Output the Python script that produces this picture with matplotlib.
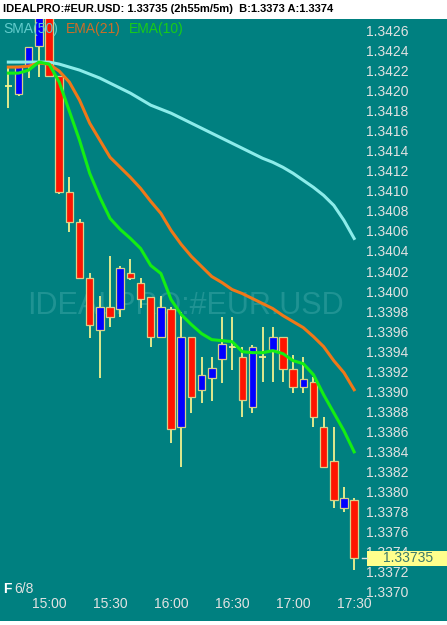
import numpy as np
import matplotlib.pyplot as plt
import matplotlib.transforms as mtransforms
from matplotlib.patches import Rectangle

plt.rcParams['font.family'] = ['Liberation Sans', 'DejaVu Sans']

# velas de 5 minutos, 14:40 -> 17:30
opens = [1.34206, 1.34198, 1.34227, 1.34246, 1.34280, 1.34216, 1.34100, 1.34070, 1.34015, 1.33963,
         1.33986, 1.33984, 1.34020, 1.34010, 1.33996, 1.33956, 1.33984, 1.33866, 1.33956, 1.33903,
         1.33915, 1.33934, 1.33946, 1.33936, 1.33886, 1.33936, 1.33943, 1.33956, 1.33924, 1.33906,
         1.33911, 1.33866, 1.33832, 1.33785, 1.33793]
highs = [1.34224, 1.34226, 1.34245, 1.34275, 1.34285, 1.34216, 1.34115, 1.34073, 1.34020, 1.33997,
         1.34036, 1.34026, 1.34033, 1.34015, 1.33996, 1.33997, 1.33986, 1.33981, 1.33956, 1.33936,
         1.33936, 1.33976, 1.33976, 1.33946, 1.33948, 1.33966, 1.33966, 1.33956, 1.33938, 1.33936,
         1.33916, 1.33876, 1.33866, 1.33806, 1.33795]
lows = [1.34184, 1.34196, 1.34214, 1.34215, 1.34216, 1.34098, 1.34060, 1.34015, 1.33955, 1.33915,
        1.33966, 1.33976, 1.34013, 1.33985, 1.33946, 1.33956, 1.33850, 1.33826, 1.33880, 1.33890,
        1.33892, 1.33910, 1.33923, 1.33876, 1.33880, 1.33911, 1.33911, 1.33911, 1.33900, 1.33900,
        1.33866, 1.33826, 1.33785, 1.33781, 1.33723]
closes = [1.34206, 1.34226, 1.34245, 1.34275, 1.34216, 1.34100, 1.34070, 1.34015, 1.33968, 1.33986,
          1.33976, 1.34024, 1.34015, 1.33994, 1.33956, 1.33986, 1.33864, 1.33956, 1.33896, 1.33918,
          1.33925, 1.33949, 1.33946, 1.33893, 1.33946, 1.33936, 1.33956, 1.33924, 1.33906, 1.33914,
          1.33876, 1.33826, 1.33793, 1.33795, 1.33735]

sma50 = [1.34230, 1.34230, 1.34230, 1.34230, 1.34230, 1.34228, 1.34225, 1.34222, 1.34218, 1.34214,
         1.34209, 1.34204, 1.34199, 1.34193, 1.34187, 1.34183, 1.34179, 1.34174, 1.34169, 1.34164,
         1.34159, 1.34154, 1.34149, 1.34144, 1.34139, 1.34134, 1.34130, 1.34125, 1.34119, 1.34112,
         1.34105, 1.34097, 1.34087, 1.34072, 1.34054]
ema21 = [1.34225, 1.34225, 1.34226, 1.34229, 1.34228, 1.34221, 1.34210, 1.34192, 1.34169, 1.34152,
         1.34135, 1.34125, 1.34115, 1.34104, 1.34091, 1.34079, 1.34062, 1.34048, 1.34036, 1.34026,
         1.34016, 1.34010, 1.34003, 1.33999, 1.33994, 1.33989, 1.33984, 1.33977, 1.33971, 1.33965,
         1.33956, 1.33946, 1.33932, 1.33920, 1.33903]
ema10 = [1.34219, 1.34219, 1.34222, 1.34230, 1.34228, 1.34210, 1.34181, 1.34152, 1.34119, 1.34095,
         1.34074, 1.34063, 1.34054, 1.34044, 1.34027, 1.34019, 1.33993, 1.33978, 1.33968, 1.33959,
         1.33953, 1.33952, 1.33951, 1.33941, 1.33940, 1.33940, 1.33942, 1.33939, 1.33932, 1.33929,
         1.33918, 1.33898, 1.33880, 1.33862, 1.33841]

time_labels = ['15:00', '15:30', '16:00', '16:30', '17:00', '17:30']
time_pos = [4, 10, 16, 22, 28, 34]
price_ticks = [1.3370, 1.3372, 1.3374, 1.3376, 1.3378, 1.3380, 1.3382, 1.3384, 1.3386, 1.3388,
               1.3390, 1.3392, 1.3394, 1.3396, 1.3398, 1.3400, 1.3402, 1.3404, 1.3406, 1.3408,
               1.3410, 1.3412, 1.3414, 1.3416, 1.3418, 1.3420, 1.3422, 1.3424, 1.3426]
last_price = 1.33735

W, H = 447, 625
fig = plt.figure(figsize=(W / 100, H / 100), dpi=100)
fig.patch.set_facecolor('white')
ax = fig.add_axes([0, 4 / H, 1, 602 / H])
ax.set_facecolor('#008080')
ax.set_xlim(-0.82, 43.13)
ax.set_ylim(1.336722, 1.342730)
ax.set_xticks([])
ax.set_yticks([])
for s in ax.spines.values():
    s.set_visible(False)

ty = mtransforms.blended_transform_factory(ax.transAxes, ax.transData)
tx = mtransforms.blended_transform_factory(ax.transData, ax.transAxes)

# marca de agua
ax.text(185 / W, 1 - 306 / H, 'IDEALPRO:#EUR.USD', transform=fig.transFigure,
        fontsize=22, color='#1f9393', ha='center', va='center', zorder=1)

x = np.arange(len(opens))
o = np.array(opens)
h = np.array(highs)
l = np.array(lows)
c = np.array(closes)
doji = c == o
up = c > o

ax.vlines(x, l, h, color='#f2f28e', lw=1.3, zorder=2)
colores = np.where(up, '#0000ff', '#ff1400')
ax.bar(x[~doji], np.abs(c - o)[~doji], bottom=np.minimum(o, c)[~doji], width=0.74,
       color=colores[~doji], edgecolor='#d8d088', linewidth=0.9, zorder=3)
ax.hlines(o[doji], x[doji] - 0.35, x[doji] + 0.35, color='#f2f28e', lw=1.3, zorder=3)

ax.plot(x, sma50, color='#8cecea', lw=2.2, zorder=4)
ax.plot(x, ema21, color='#f07818', lw=2.2, zorder=4)
ax.plot(x, ema10, color='#14ee14', lw=2.2, zorder=5)

# escala de precios
for p in price_ticks:
    ax.text(366 / W, p, f'{p:.4f}', transform=ty, fontsize=10, color='#e2e2e2',
            ha='left', va='center', zorder=5)

for pos, lab in zip(time_pos, time_labels):
    ax.text(pos, 17 / 602, lab, transform=tx, fontsize=10, color='#e2e2e2',
            ha='center', va='center', zorder=5)

# caja del ultimo precio
ax.add_patch(Rectangle((367 / W, last_price - 0.000075), 80 / W, 0.00015, transform=ty,
                       facecolor='#ffff8c', edgecolor='none', zorder=6))
ax.plot([362 / W, 367 / W], [last_price, last_price], transform=ty, color='#e2e2e2', lw=1, zorder=6)
ax.text(408 / W, last_price, f'{last_price:.5f}', transform=ty, fontsize=10, color='#3d7a6a',
        ha='center', va='center', zorder=7)

# leyenda
ax.text(3 / W, 1 - 29 / H, 'SMA(50)', transform=fig.transFigure, fontsize=10, color='#62cccc', va='center')
ax.text(66 / W, 1 - 29 / H, 'EMA(21)', transform=fig.transFigure, fontsize=10, color='#cc6e28', va='center')
ax.text(129 / W, 1 - 29 / H, 'EMA(10)', transform=fig.transFigure, fontsize=10, color='#18cc18', va='center')

ax.text(3 / W, 1 - 589 / H, 'F', transform=fig.transFigure, fontsize=10, color='white',
        weight='bold', va='center')
ax.text(14 / W, 1 - 589 / H, '6/8', transform=fig.transFigure, fontsize=10, color='#e2e2e2', va='center')

fig.text(3 / W, 1 - 9.5 / H, 'IDEALPRO:#EUR.USD: 1.33735 (2h55m/5m)  B:1.3373 A:1.3374',
         fontsize=8, weight='bold', color='black', ha='left', va='center')

plt.savefig('out.png', dpi=100, facecolor='white')
